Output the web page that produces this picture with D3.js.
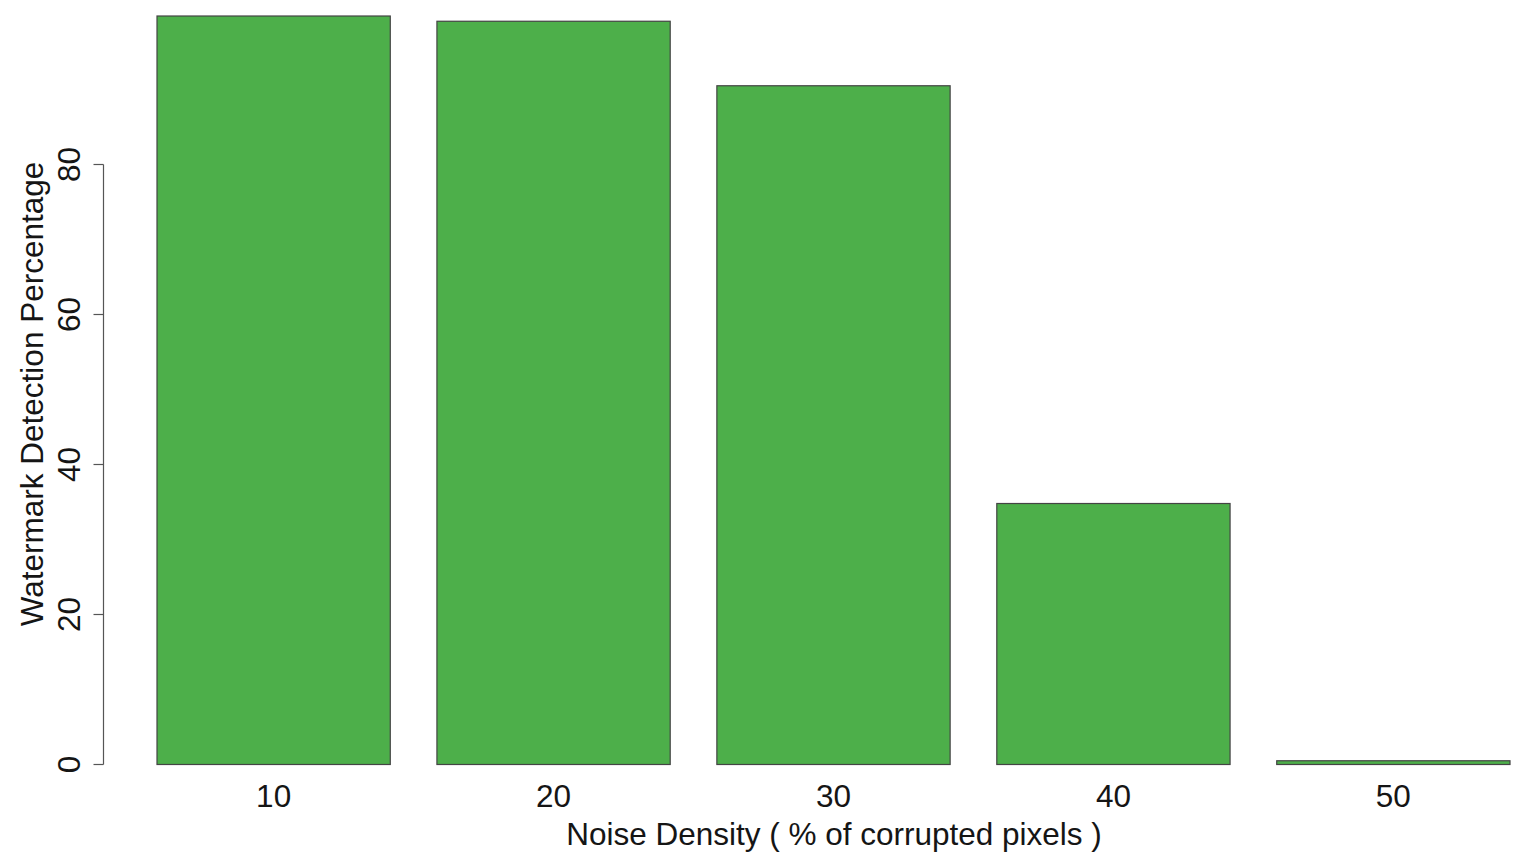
<!DOCTYPE html>
<html>
<head>
<meta charset="utf-8">
<script src="https://cdn.jsdelivr.net/npm/d3@7"></script>
<style>
  html, body { margin: 0; padding: 0; background: #fff; }
  svg { display: block; }
  text { font-family: "Liberation Sans", Arial, Helvetica, sans-serif; fill: #151515; }
</style>
</head>
<body>
<svg id="chart" width="1522" height="865"></svg>
<script>
const categories = ["10", "20", "30", "40", "50"];
const values = [99.8, 99.1, 90.5, 34.8, 0.5];
const yTicks = [0, 20, 40, 60, 80];
const xTitle = "Noise Density ( % of corrupted pixels )";
const yTitle = "Watermark Detection Percentage";

const svg = d3.select("#chart");
const fontSize = 31.5;

const x = d3.scaleBand()
  .domain(categories)
  .range([157, 1510])
  .paddingInner(0.2 / 1.2)
  .paddingOuter(0);

const y = d3.scaleLinear()
  .domain([0, 80])
  .range([764.5, 164.5]);

// bars
svg.append("g").selectAll("rect")
  .data(categories.map((c, i) => ({ c, v: values[i] })))
  .join("rect")
  .attr("x", d => x(d.c))
  .attr("y", d => y(d.v))
  .attr("width", x.bandwidth())
  .attr("height", d => y(0) - y(d.v))
  .attr("fill", "#4DAF4A")
  .attr("stroke", "#444")
  .attr("stroke-width", 1.2);

// y axis
const yAxis = svg.append("g").attr("transform", "translate(103.5,0)");
yAxis.append("line")
  .attr("x1", 0).attr("x2", 0)
  .attr("y1", y(0)).attr("y2", y(80))
  .attr("stroke", "#555").attr("stroke-width", 1.2);
yAxis.selectAll("line.tick")
  .data(yTicks)
  .join("line")
  .attr("class", "tick")
  .attr("x1", -10).attr("x2", 0)
  .attr("y1", d => y(d)).attr("y2", d => y(d))
  .attr("stroke", "#555").attr("stroke-width", 1.2);
svg.append("g").selectAll("text")
  .data(yTicks)
  .join("text")
  .attr("transform", d => `translate(79.5,${y(d)}) rotate(-90)`)
  .attr("text-anchor", "middle")
  .attr("font-size", fontSize)
  .text(d => d);

// x tick labels
svg.append("g").selectAll("text")
  .data(categories)
  .join("text")
  .attr("x", d => x(d) + x.bandwidth() / 2)
  .attr("y", 807)
  .attr("text-anchor", "middle")
  .attr("font-size", fontSize)
  .text(d => d);

// axis titles
svg.append("text")
  .attr("x", 834)
  .attr("y", 845)
  .attr("text-anchor", "middle")
  .attr("font-size", fontSize)
  .text(xTitle);

svg.append("text")
  .attr("transform", "translate(43,394) rotate(-90)")
  .attr("text-anchor", "middle")
  .attr("font-size", fontSize)
  .text(yTitle);
</script>
</body>
</html>
